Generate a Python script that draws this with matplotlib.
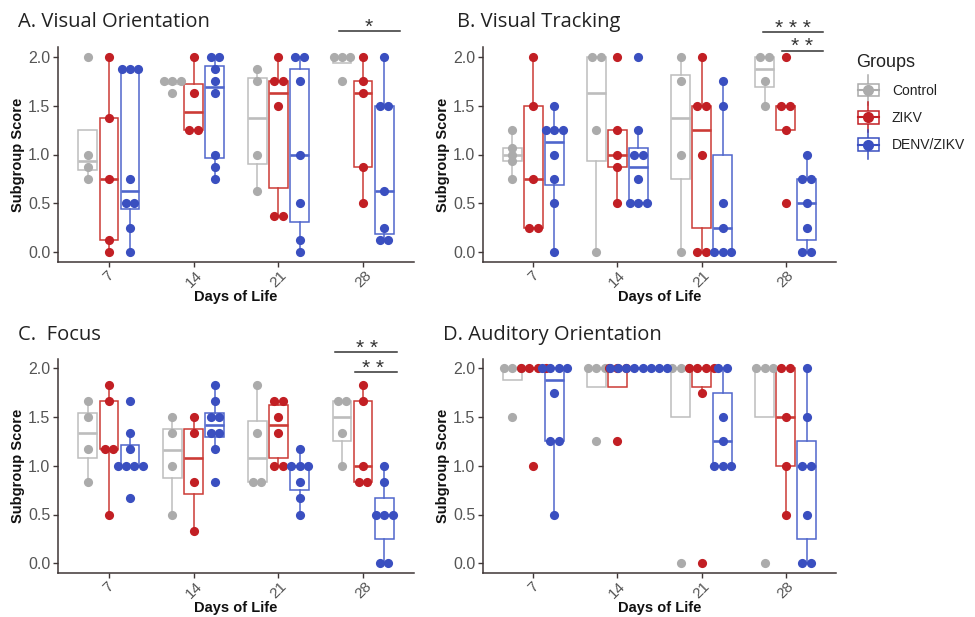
import numpy as np
import matplotlib
matplotlib.use("Agg")
import matplotlib.pyplot as plt
from matplotlib.legend_handler import HandlerBase
from matplotlib.lines import Line2D
from matplotlib.patches import Rectangle

# ---------------- data ----------------
days = ["7", "14", "21", "28"]
groups = ["Control", "ZIKV", "DENV/ZIKV"]

A_control = [[2.0, 1.0, 0.875, 0.75], [1.75, 1.75, 1.75, 1.625], [1.875, 1.75, 1.0, 0.625], [2.0, 2.0, 2.0, 1.75]]
A_zikv = [[2.0, 1.375, 0.75, 0.125, 0.0], [2.0, 1.625, 1.25, 1.25], [2.0, 1.75, 1.75, 1.5, 0.375, 0.375], [2.0, 1.75, 1.625, 0.875, 0.5]]
A_denv = [[1.875, 1.875, 1.875, 0.75, 0.5, 0.5, 0.25, 0.0], [2.0, 2.0, 1.875, 1.75, 1.625, 1.0, 0.875, 0.75],
          [2.0, 2.0, 1.75, 1.0, 0.5, 0.125, 0.0], [2.0, 1.5, 1.5, 0.625, 0.25, 0.125, 0.125]]

B_control = [[1.25, 1.0625, 1.0, 0.9375, 0.75], [2.0, 2.0, 1.25, 0.0], [2.0, 1.75, 1.0, 0.0], [2.0, 2.0, 1.75, 1.5]]
B_zikv = [[2.0, 1.5, 0.75, 0.25, 0.25], [2.0, 1.25, 1.0, 0.875, 0.5], [2.0, 1.5, 1.5, 1.0, 0.0, 0.0], [2.0, 1.5, 1.5, 1.25, 0.5]]
B_denv = [[1.5, 1.25, 1.25, 1.25, 1.0, 0.75, 0.5, 0.0], [2.0, 1.25, 1.0, 1.0, 0.75, 0.5, 0.5, 0.5],
          [1.75, 1.5, 0.5, 0.25, 0.0, 0.0, 0.0], [1.0, 0.75, 0.75, 0.5, 0.25, 0.0, 0.0]]

C_control = [[1.667, 1.5, 1.167, 0.833], [1.5, 1.333, 1.0, 0.5], [1.833, 1.333, 0.833, 0.833], [1.667, 1.667, 1.333, 1.0]]
C_zikv = [[1.833, 1.667, 1.167, 1.167, 0.5], [1.5, 1.333, 0.833, 0.333], [1.667, 1.667, 1.5, 1.333, 1.0, 1.0], [1.833, 1.667, 1.0, 0.833, 0.833]]
C_denv = [[1.667, 1.333, 1.167, 1.0, 1.0, 1.0, 1.0, 0.667], [1.833, 1.667, 1.5, 1.5, 1.333, 1.333, 1.167, 0.833],
          [1.167, 1.0, 1.0, 1.0, 0.833, 0.667, 0.5], [1.0, 0.833, 0.5, 0.5, 0.5, 0.0, 0.0]]

D_control = [[2.0, 2.0, 2.0, 1.5], [2.0, 2.0, 2.0, 1.25], [2.0, 2.0, 2.0, 0.0], [2.0, 2.0, 2.0, 0.0]]
D_zikv = [[2.0, 2.0, 2.0, 2.0, 1.0], [2.0, 2.0, 2.0, 1.25], [2.0, 2.0, 2.0, 2.0, 1.75, 0.0], [2.0, 2.0, 1.5, 1.0, 0.5]]
D_denv = [[2.0, 2.0, 2.0, 2.0, 1.75, 1.25, 1.25, 0.5], [2.0, 2.0, 2.0, 2.0, 2.0, 2.0, 2.0, 2.0],
          [2.0, 2.0, 1.5, 1.25, 1.0, 1.0, 1.0], [2.0, 1.5, 1.0, 1.0, 0.5, 0.0, 0.0]]

titles = ["A. Visual Orientation", "B. Visual Tracking", "C.  Focus", "D. Auditory Orientation"]
y_ticks = [0.0, 0.5, 1.0, 1.5, 2.0]

# significance brackets: (label, x_start, x_end, y_line, label_x, label_y) in data units
sig_A = [("*", 3.71, 4.43, 2.264, 4.06, 2.30)]
sig_B = [("* * *", 3.73, 4.45, 2.254, 4.09, 2.29), ("* *", 3.96, 4.45, 2.059, 4.19, 2.10)]
sig_C = [("* *", 3.67, 4.40, 2.167, 4.05, 2.20), ("* *", 3.90, 4.40, 1.962, 4.12, 2.00)]
sig_D = []

# ---------------- style ----------------
dot_colors = ["#ababab", "#c21f24", "#3a4fc0"]
box_colors = ["#bdbdbd", "#cc3b36", "#4f66cc"]
axis_col = "#3e3636"
tick_lab_col = "#555555"
offsets = [-0.25, 0.0, 0.25]
box_w = 0.22
dot_step = 0.098

plt.rcParams["font.family"] = ["Liberation Sans", "DejaVu Sans"]

W, H = 975, 617
fig = plt.figure(figsize=(W / 100, H / 100), dpi=100)


def px_axes(l, t, r, b):
    return fig.add_axes([l / W, 1 - b / H, (r - l) / W, (b - t) / H])


panels = [
    (px_axes(58, 47, 414, 262), [A_control, A_zikv, A_denv], sig_A, (18, 22)),
    (px_axes(483, 47, 836, 262), [B_control, B_zikv, B_denv], sig_B, (457, 22)),
    (px_axes(58, 358.5, 414, 573), [C_control, C_zikv, C_denv], sig_C, (18, 335)),
    (px_axes(483, 358.5, 836, 573), [D_control, D_zikv, D_denv], sig_D, (443, 335)),
]

for (ax, series, sigs, tpos), title in zip(panels, titles):
    for di in range(len(days)):
        for gi in range(3):
            vals = np.array(series[gi][di])
            pos = di + 1 + offsets[gi]
            ax.boxplot([vals], positions=[pos], widths=box_w, whis=1.5, showcaps=False,
                       showfliers=False, patch_artist=True, manage_ticks=False,
                       boxprops=dict(facecolor="none", edgecolor=box_colors[gi], linewidth=1.1),
                       whiskerprops=dict(color=box_colors[gi], linewidth=1.1),
                       medianprops=dict(color=box_colors[gi], linewidth=1.9),
                       zorder=2)
        for gi in range(3):
            vals = np.array(series[gi][di])
            pos = di + 1 + offsets[gi]
            uniq, counts = np.unique(vals, return_counts=True)
            for v, k in zip(uniq, counts):
                xs = pos + (np.arange(k) - (k - 1) / 2) * dot_step
                ax.plot(xs, np.full(k, v), "o", color=dot_colors[gi], ms=6.6,
                        markeredgewidth=0, zorder=3 + gi, clip_on=False)

    ax.set_xlim(0.4, 4.6)
    ax.set_ylim(-0.1, 2.1)
    ax.set_xticks(range(1, len(days) + 1))
    ax.set_xticklabels(days, rotation=45, ha="center", va="top")
    ax.set_yticks(y_ticks)
    ax.set_yticklabels([f"{t:.1f}" for t in y_ticks])
    for s in ["top", "right"]:
        ax.spines[s].set_visible(False)
    for s in ["left", "bottom"]:
        ax.spines[s].set_color(axis_col)
        ax.spines[s].set_linewidth(1.1)
    ax.tick_params(axis="both", colors=axis_col, length=3.5, width=1.0,
                   labelsize=11.5, labelcolor=tick_lab_col, pad=2)
    ax.tick_params(axis="x", pad=1, labelsize=11)
    ax.set_xlabel("Days of Life", fontsize=10.5, fontweight="bold", color="#111111", labelpad=0)
    ax.set_ylabel("Subgroup Score", fontsize=10.5, fontweight="bold", color="#111111", labelpad=2)
    ax.patch.set_visible(False)

    for lab, x0, x1, yl, lx, ly in sigs:
        ax.plot([x0, x1], [yl, yl], color="#333333", lw=1.1, clip_on=False)
        ax.text(lx, ly, lab, ha="center", va="center", fontsize=15, color="#333333",
                clip_on=False)

    fig.text(tpos[0] / W, 1 - tpos[1] / H, title, fontsize=14.5, family=["Open Sans", "DejaVu Sans"],
             color="#222222", ha="left", va="center")


class BoxDotHandler(HandlerBase):
    def create_artists(self, legend, orig_handle, xdescent, ydescent, width, height, fontsize, trans):
        col = orig_handle.get_color()
        cx = width / 2 - xdescent
        cy = height / 2 - ydescent
        bw = width * 0.85
        bh = height * 1.0
        v = Line2D([cx, cx], [cy - bh * 1.2, cy + bh * 1.2], color=col, lw=1.1, transform=trans)
        r = Rectangle((cx - bw / 2, cy - bh / 2), bw, bh, facecolor="white", edgecolor=col,
                      lw=1.1, transform=trans)
        m = Line2D([cx - bw / 2, cx + bw / 2], [cy, cy], color=col, lw=1.5, transform=trans)
        d = Line2D([cx], [cy], marker="o", ms=8, color=col, markeredgewidth=0, transform=trans)
        return [v, r, m, d]


handles = [Line2D([], [], color=c) for c in dot_colors]
leg = fig.legend(handles, groups, title="Groups", loc="upper left",
                 bbox_to_anchor=(846 / W, 1 - 44 / H), frameon=False,
                 handler_map={Line2D: BoxDotHandler()}, fontsize=10, title_fontsize=13,
                 handlelength=1.8, handleheight=1.0, labelspacing=0.95, handletextpad=0.8,
                 borderaxespad=0.3)
leg._legend_box.align = "left"
for t in leg.get_texts():
    t.set_color("#222222")
leg.get_title().set_color("#222222")

fig.savefig("out.png", dpi=100, facecolor="white")
